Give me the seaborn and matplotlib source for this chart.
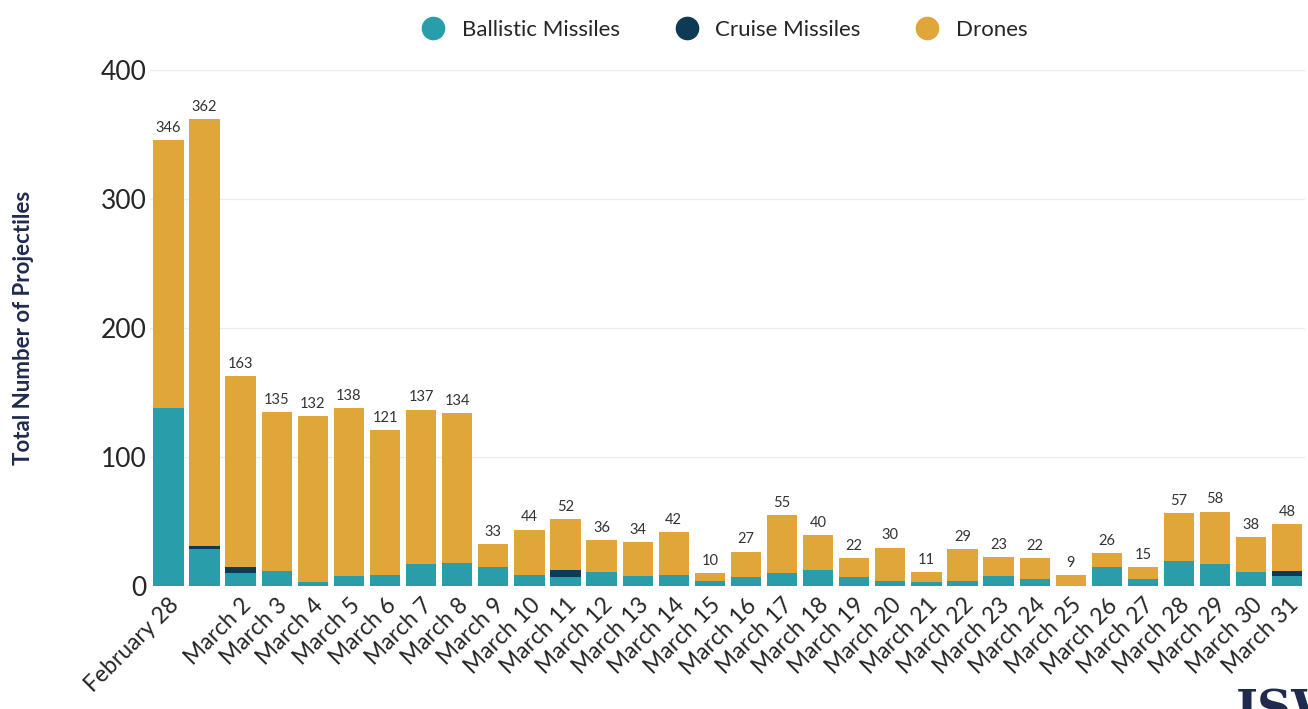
import numpy as np
import pandas as pd
import seaborn as sns
import matplotlib.pyplot as plt
from matplotlib.lines import Line2D

# data
days = ["February 28"] + ["March %d" % d for d in range(1, 32)]
tick_labels = ["February 28", ""] + ["March %d" % d for d in range(2, 32)]

ballistic = [138, 29, 10, 12, 3, 8, 9, 17, 18, 15, 9, 7, 11, 8, 9, 4,
             7, 10, 13, 7, 4, 3, 4, 8, 6, 0, 15, 6, 20, 17, 11, 8]
cruise = [0, 2, 5, 0, 0, 0, 0, 0, 0, 0, 0, 6, 0, 0, 0, 0,
          0, 0, 0, 0, 0, 0, 0, 0, 0, 0, 0, 0, 0, 0, 0, 4]
drones = [208, 331, 148, 123, 129, 130, 112, 120, 116, 18, 35, 39, 25, 26, 33, 6,
          20, 45, 27, 15, 26, 8, 25, 15, 16, 9, 11, 9, 37, 41, 27, 36]

c_ball = "#2a9dab"
c_cruise = "#0d3b55"
c_drone = "#e0a63a"

df = pd.DataFrame({"day": days, "ballistic": ballistic, "cruise": cruise, "drones": drones})
df["bc"] = df["ballistic"] + df["cruise"]
df["total"] = df["bc"] + df["drones"]

sns.set_style("white")
plt.rcParams["font.family"] = ["Lato", "DejaVu Sans"]

fig = plt.figure(figsize=(13.08, 7.09), dpi=100)
ax = fig.add_axes([0.115, 0.173, 0.883, 0.728])

# stacked bars: draw totals first, then overlay the lower parts
bar_kw = dict(width=0.84, saturation=1, linewidth=0, edgecolor="none", ax=ax)
sns.barplot(data=df, x="day", y="total", color=c_drone, zorder=2, **bar_kw)
sns.barplot(data=df, x="day", y="bc", color=c_cruise, zorder=3, **bar_kw)
sns.barplot(data=df, x="day", y="ballistic", color=c_ball, zorder=4, **bar_kw)

for i, t in enumerate(df["total"]):
    ax.text(i, t + 4, str(t), ha="center", va="bottom", fontsize=10.5, color="#333333")

ax.set_ylim(0, 400)
ax.set_xlim(-0.5, len(days) - 0.5)
ax.set_yticks([0, 100, 200, 300, 400])
ax.yaxis.grid(True, color="#ececec", linewidth=1)
ax.set_axisbelow(True)
for s in ax.spines.values():
    s.set_visible(False)

ax.set_xticks(range(len(days)))
ax.set_xticklabels(tick_labels, rotation=45, ha="right", rotation_mode="anchor", fontsize=16.5)
ax.tick_params(axis="x", length=0, pad=6)
ax.tick_params(axis="y", length=0, labelsize=19, pad=3)
ax.set_xlabel("")
ax.set_ylabel("Total Number of Projectiles", fontsize=16, fontweight="bold", color="#1f2a4e", labelpad=48)

handles = [Line2D([], [], marker="o", linestyle="", markersize=16, color=c) for c in (c_ball, c_cruise, c_drone)]
fig.legend(handles, ["Ballistic Missiles", "Cruise Missiles", "Drones"], loc="upper center",
           bbox_to_anchor=(0.55, 1.0), ncol=3, frameon=False, fontsize=16,
           handletextpad=0.3, columnspacing=2.0)

fig.text(0.945, -0.02, "ISW", fontsize=34, fontweight="bold", color="#1f2a4e", family="DejaVu Serif")

fig.savefig("out.png", dpi=100)
